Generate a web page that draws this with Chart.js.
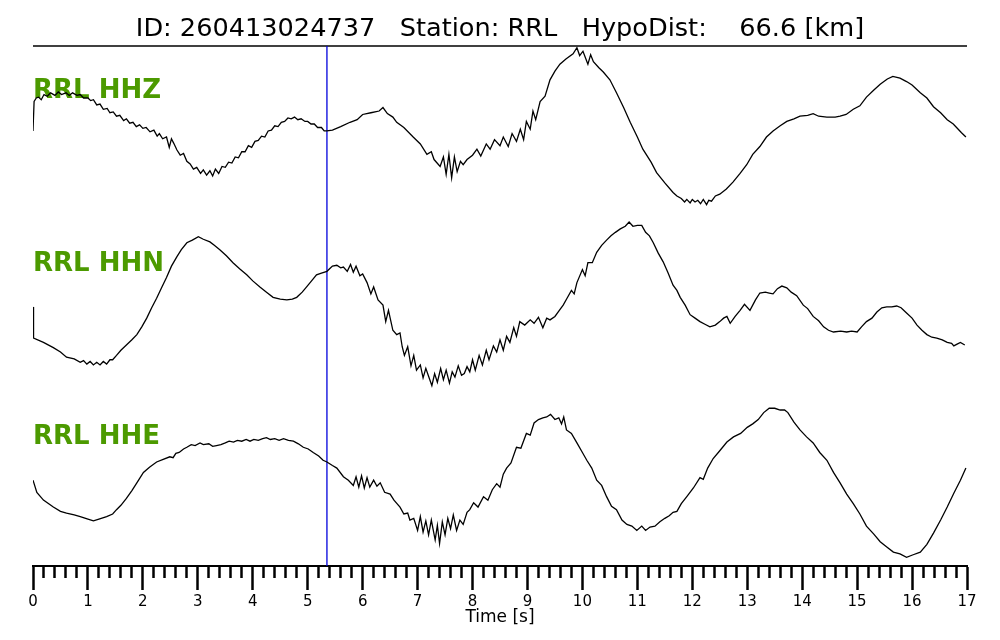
<!DOCTYPE html>
<html>
<head>
<meta charset="utf-8">
<script src="https://cdn.jsdelivr.net/npm/chart.js@4/dist/chart.umd.min.js"></script>
<style>
  html, body { margin: 0; padding: 0; background: #fff; }
  #wrap { width: 1000px; height: 640px; }
</style>
</head>
<body>
<div id="wrap"><canvas id="seis"></canvas></div>
<script>
// event header
const eventId = '260413024737';
const station = 'RRL';
const hypoDist = '66.6';
const channels = ['HHZ', 'HHN', 'HHE'];
const pickTime = 5.35; // blue marker, s

// traces: time in s, amplitude normalised per channel (1 = half a panel)
const hhzTime = [
  0, 0.02, 0.06, 0.1, 0.15, 0.2, 0.26, 0.32, 0.4, 0.46,
  0.52, 0.6, 0.66, 0.72, 0.8, 0.86, 0.92, 1.0, 1.05, 1.1,
  1.16, 1.22, 1.28, 1.35, 1.4, 1.46, 1.52, 1.58, 1.65, 1.7,
  1.76, 1.82, 1.88, 1.94, 2.0, 2.06, 2.13, 2.2, 2.26, 2.3,
  2.36, 2.43, 2.48, 2.52, 2.56, 2.62, 2.68, 2.74, 2.8, 2.86,
  2.92, 2.98, 3.05, 3.1, 3.16, 3.22, 3.27, 3.32, 3.38, 3.44,
  3.5, 3.56, 3.62, 3.68, 3.74, 3.8, 3.86, 3.92, 3.98, 4.04,
  4.1, 4.16, 4.22, 4.28, 4.34, 4.4, 4.46, 4.52, 4.58, 4.64,
  4.7, 4.76, 4.82, 4.88, 4.95, 5.0, 5.06, 5.12, 5.18, 5.25,
  5.3, 5.35, 5.45, 5.6, 5.77, 5.9, 6.0, 6.15, 6.3, 6.37,
  6.45, 6.55, 6.62, 6.75, 6.92, 7.05, 7.17, 7.25, 7.3, 7.41,
  7.47, 7.52, 7.57, 7.62, 7.67, 7.72, 7.78, 7.83, 7.9, 8.0,
  8.08, 8.15, 8.25, 8.32, 8.4, 8.5, 8.56, 8.65, 8.72, 8.8,
  8.87, 8.93, 8.98, 9.05, 9.1, 9.15, 9.23, 9.32, 9.41, 9.5,
  9.59, 9.7, 9.83, 9.9, 9.95, 10.01, 10.1, 10.15, 10.2, 10.3,
  10.38, 10.5, 10.62, 10.75, 10.87, 11.0, 11.1, 11.25, 11.35, 11.5,
  11.65, 11.72, 11.8, 11.86, 11.9, 11.96, 12.0, 12.05, 12.1, 12.15,
  12.2, 12.26, 12.3, 12.35, 12.42, 12.5, 12.62, 12.74, 12.87, 12.99,
  13.1, 13.23, 13.35, 13.47, 13.6, 13.72, 13.85, 13.96, 14.1, 14.2,
  14.3, 14.45, 14.6, 14.69, 14.8, 14.93, 15.05, 15.17, 15.3, 15.42,
  15.55, 15.65, 15.78, 15.9, 16.0, 16.15, 16.27, 16.39, 16.52, 16.64,
  16.75, 16.81, 16.9, 16.98
];
const hhzAmp = [
  0.02, 0.36, 0.40, 0.41, 0.38, 0.44, 0.42, 0.46, 0.43, 0.47,
  0.44, 0.46, 0.43, 0.46, 0.43, 0.44, 0.40, 0.40, 0.37, 0.38,
  0.32, 0.33, 0.27, 0.28, 0.23, 0.24, 0.19, 0.20, 0.14, 0.16,
  0.11, 0.12, 0.07, 0.09, 0.05, 0.06, 0.01, 0.03, -0.04, -0.01,
  -0.07, -0.05, -0.17, -0.07, -0.12, -0.20, -0.26, -0.24, -0.33, -0.36,
  -0.42, -0.40, -0.47, -0.43, -0.49, -0.44, -0.50, -0.42, -0.47, -0.39,
  -0.40, -0.34, -0.35, -0.28, -0.29, -0.22, -0.22, -0.15, -0.17, -0.10,
  -0.09, -0.04, -0.05, 0.02, 0.03, 0.08, 0.07, 0.12, 0.13, 0.17,
  0.16, 0.18, 0.15, 0.16, 0.13, 0.13, 0.10, 0.10, 0.06, 0.06,
  0.02, 0.02, 0.03, 0.07, 0.12, 0.15, 0.21, 0.23, 0.25, 0.29,
  0.22, 0.18, 0.12, 0.06, -0.05, -0.13, -0.25, -0.22, -0.31, -0.39,
  -0.28, -0.48, -0.25, -0.52, -0.28, -0.45, -0.33, -0.37, -0.31, -0.26,
  -0.19, -0.27, -0.13, -0.19, -0.08, -0.15, -0.05, -0.16, -0.01, -0.10,
  0.04, -0.08, 0.13, 0.04, 0.25, 0.15, 0.36, 0.42, 0.61, 0.71,
  0.79, 0.85, 0.91, 0.98, 0.89, 0.94, 0.79, 0.90, 0.82, 0.75,
  0.70, 0.61, 0.46, 0.29, 0.12, -0.05, -0.19, -0.34, -0.46, -0.58,
  -0.69, -0.73, -0.76, -0.80, -0.77, -0.81, -0.77, -0.80, -0.78, -0.82,
  -0.77, -0.83, -0.78, -0.79, -0.73, -0.71, -0.65, -0.57, -0.47, -0.37,
  -0.25, -0.16, -0.05, 0.02, 0.08, 0.13, 0.16, 0.19, 0.20, 0.22,
  0.19, 0.18, 0.18, 0.19, 0.21, 0.27, 0.31, 0.41, 0.49, 0.56,
  0.62, 0.65, 0.63, 0.59, 0.55, 0.46, 0.40, 0.30, 0.23, 0.15,
  0.10, 0.06, 0.00, -0.05
];

const hhnTime = [
  0, 0.01, 0.19, 0.37, 0.5, 0.61, 0.75, 0.86, 0.92, 0.98,
  1.04, 1.1, 1.16, 1.22, 1.28, 1.34, 1.4, 1.45, 1.52, 1.6,
  1.7, 1.8, 1.89, 1.98, 2.07, 2.16, 2.25, 2.34, 2.43, 2.52,
  2.62, 2.7, 2.8, 2.9, 3.01, 3.1, 3.22, 3.3, 3.4, 3.52,
  3.64, 3.76, 3.89, 4.0, 4.13, 4.25, 4.37, 4.5, 4.62, 4.72,
  4.8, 4.9, 4.98, 5.07, 5.16, 5.25, 5.35, 5.45, 5.53, 5.6,
  5.65, 5.72, 5.78, 5.83, 5.88, 5.95, 6.0, 6.08, 6.15, 6.2,
  6.28, 6.37, 6.42, 6.47, 6.55, 6.62, 6.68, 6.72, 6.76, 6.82,
  6.88, 6.93, 6.98, 7.05, 7.1, 7.15, 7.2, 7.26, 7.31, 7.36,
  7.42, 7.47, 7.52, 7.58, 7.63, 7.68, 7.74, 7.8, 7.85, 7.9,
  7.95, 8.0, 8.05, 8.12, 8.18, 8.25, 8.3, 8.38, 8.44, 8.5,
  8.56, 8.62, 8.68, 8.75, 8.8, 8.86, 8.95, 9.05, 9.12, 9.2,
  9.28, 9.35, 9.41, 9.5, 9.58, 9.65, 9.72, 9.8, 9.85, 9.9,
  10.0, 10.05, 10.1, 10.18, 10.26, 10.35, 10.44, 10.52, 10.6, 10.69,
  10.78, 10.85, 10.92, 11.0, 11.08, 11.15, 11.22, 11.29, 11.38, 11.47,
  11.56, 11.65, 11.72, 11.78, 11.87, 11.96, 12.05, 12.14, 12.23, 12.32,
  12.42, 12.5, 12.57, 12.63, 12.69, 12.78, 12.87, 12.95, 13.05, 13.15,
  13.23, 13.33, 13.4, 13.47, 13.55, 13.63, 13.72, 13.8, 13.9, 14.02,
  14.1, 14.2, 14.3, 14.39, 14.48, 14.57, 14.7, 14.81, 14.9, 15.0,
  15.08, 15.17, 15.27, 15.36, 15.45, 15.54, 15.63, 15.72, 15.8, 15.9,
  16.0, 16.09, 16.18, 16.27, 16.36, 16.45, 16.55, 16.64, 16.72, 16.76,
  16.82, 16.88, 16.96
];
const hhnAmp = [
  -0.01, -0.37, -0.42, -0.48, -0.53, -0.59, -0.61, -0.65, -0.63, -0.67,
  -0.64, -0.68, -0.65, -0.68, -0.64, -0.67, -0.62, -0.62, -0.57, -0.51,
  -0.45, -0.39, -0.33, -0.24, -0.14, -0.02, 0.09, 0.21, 0.33, 0.46,
  0.57, 0.65, 0.73, 0.76, 0.80, 0.77, 0.74, 0.70, 0.65, 0.58,
  0.50, 0.43, 0.36, 0.29, 0.22, 0.16, 0.10, 0.08, 0.07, 0.08,
  0.10, 0.16, 0.22, 0.29, 0.36, 0.38, 0.40, 0.46, 0.47, 0.44,
  0.45, 0.40, 0.48, 0.39, 0.46, 0.35, 0.37, 0.27, 0.14, 0.22,
  0.07, 0.01, -0.18, -0.05, -0.28, -0.33, -0.31, -0.47, -0.57, -0.47,
  -0.69, -0.57, -0.74, -0.68, -0.83, -0.72, -0.81, -0.92, -0.78, -0.88,
  -0.72, -0.85, -0.74, -0.89, -0.76, -0.82, -0.69, -0.80, -0.78, -0.70,
  -0.76, -0.62, -0.74, -0.57, -0.68, -0.51, -0.62, -0.46, -0.53, -0.39,
  -0.51, -0.35, -0.42, -0.25, -0.35, -0.18, -0.22, -0.16, -0.20, -0.13,
  -0.25, -0.14, -0.16, -0.12, -0.05, 0.01, 0.09, 0.18, 0.14, 0.27,
  0.42, 0.35, 0.50, 0.50, 0.62, 0.70, 0.76, 0.81, 0.85, 0.89,
  0.92, 0.97, 0.92, 0.93, 0.93, 0.85, 0.81, 0.73, 0.61, 0.51,
  0.38, 0.24, 0.18, 0.10, 0.01, -0.10, -0.14, -0.18, -0.21, -0.24,
  -0.22, -0.18, -0.14, -0.12, -0.20, -0.12, -0.05, 0.02, -0.05, 0.07,
  0.15, 0.16, 0.15, 0.14, 0.20, 0.23, 0.21, 0.16, 0.12, 0.01,
  -0.03, -0.12, -0.17, -0.24, -0.28, -0.30, -0.29, -0.30, -0.29, -0.30,
  -0.24, -0.18, -0.14, -0.07, -0.02, -0.01, -0.01, 0.00, -0.02, -0.08,
  -0.14, -0.22, -0.28, -0.33, -0.36, -0.37, -0.39, -0.42, -0.43, -0.46,
  -0.44, -0.42, -0.45
];

const hheTime = [
  0, 0.07, 0.19, 0.37, 0.5, 0.61, 0.75, 0.86, 1.0, 1.1,
  1.2, 1.34, 1.45, 1.52, 1.6, 1.7, 1.8, 1.89, 2.01, 2.12,
  2.25, 2.37, 2.49, 2.55, 2.6, 2.66, 2.74, 2.8, 2.88, 2.95,
  3.04, 3.1, 3.2, 3.27, 3.34, 3.42, 3.5, 3.57, 3.65, 3.72,
  3.8, 3.88, 3.95, 4.02, 4.1, 4.18, 4.25, 4.32, 4.4, 4.48,
  4.56, 4.65, 4.74, 4.83, 4.92, 5.01, 5.1, 5.2, 5.28, 5.35,
  5.45, 5.53, 5.65, 5.74, 5.83, 5.88, 5.93, 5.98, 6.03, 6.08,
  6.13, 6.2, 6.26, 6.32, 6.4, 6.5, 6.57, 6.68, 6.75, 6.82,
  6.86, 6.93, 7.0, 7.05, 7.1, 7.15, 7.2, 7.25, 7.32, 7.36,
  7.4, 7.45, 7.5, 7.55, 7.6, 7.65, 7.71, 7.77, 7.83, 7.9,
  7.95, 8.02, 8.1, 8.2, 8.28, 8.36, 8.44, 8.5, 8.56, 8.62,
  8.7, 8.8, 8.88, 8.98, 9.05, 9.12, 9.2, 9.28, 9.35, 9.42,
  9.5, 9.57, 9.62, 9.66, 9.71, 9.8, 9.9, 10.0, 10.08, 10.17,
  10.26, 10.35, 10.44, 10.53, 10.62, 10.72, 10.81, 10.9, 10.99, 11.08,
  11.15, 11.23, 11.32, 11.41, 11.5, 11.58, 11.65, 11.72, 11.8, 11.9,
  12.02, 12.14, 12.2, 12.28, 12.38, 12.5, 12.63, 12.75, 12.88, 13.0,
  13.1, 13.2, 13.3, 13.4, 13.5, 13.6, 13.68, 13.74, 13.85, 13.96,
  14.08, 14.2, 14.32, 14.45, 14.57, 14.69, 14.81, 14.93, 15.05, 15.17,
  15.3, 15.42, 15.54, 15.66, 15.78, 15.9, 16.02, 16.15, 16.27, 16.39,
  16.52, 16.64, 16.76, 16.88, 16.98
];
const hheAmp = [
  -0.01, -0.15, -0.24, -0.32, -0.37, -0.39, -0.41, -0.43, -0.46, -0.48,
  -0.46, -0.43, -0.40, -0.35, -0.30, -0.22, -0.13, -0.04, 0.08, 0.14,
  0.20, 0.23, 0.26, 0.25, 0.30, 0.31, 0.35, 0.37, 0.40, 0.39,
  0.42, 0.40, 0.41, 0.38, 0.39, 0.40, 0.42, 0.44, 0.43, 0.45,
  0.44, 0.46, 0.44, 0.46, 0.45, 0.47, 0.48, 0.46, 0.47, 0.45,
  0.47, 0.45, 0.44, 0.41, 0.37, 0.35, 0.31, 0.27, 0.22, 0.20,
  0.16, 0.13, 0.03, -0.01, -0.07, 0.03, -0.09, 0.04, -0.10, 0.02,
  -0.09, -0.01, -0.08, -0.04, -0.15, -0.17, -0.24, -0.32, -0.40, -0.39,
  -0.47, -0.45, -0.59, -0.43, -0.61, -0.48, -0.64, -0.47, -0.70, -0.53,
  -0.74, -0.49, -0.64, -0.45, -0.57, -0.41, -0.59, -0.47, -0.52, -0.38,
  -0.35, -0.27, -0.32, -0.20, -0.24, -0.12, -0.05, -0.09, 0.06, 0.13,
  0.19, 0.37, 0.36, 0.53, 0.51, 0.65, 0.69, 0.71, 0.72, 0.75,
  0.69, 0.71, 0.64, 0.72, 0.57, 0.53, 0.42, 0.31, 0.22, 0.13,
  -0.01, -0.07, -0.20, -0.31, -0.35, -0.47, -0.52, -0.54, -0.59, -0.54,
  -0.59, -0.55, -0.54, -0.49, -0.45, -0.42, -0.38, -0.37, -0.28, -0.20,
  -0.10, 0.02, 0.00, 0.13, 0.24, 0.33, 0.43, 0.49, 0.53, 0.60,
  0.64, 0.69, 0.77, 0.82, 0.82, 0.80, 0.80, 0.77, 0.66, 0.57,
  0.49, 0.42, 0.31, 0.22, 0.08, -0.04, -0.17, -0.28, -0.40, -0.54,
  -0.63, -0.72, -0.78, -0.84, -0.86, -0.90, -0.87, -0.84, -0.75, -0.62,
  -0.47, -0.32, -0.16, -0.01, 0.13
];

// one panel per channel, stacked top to bottom
const traces = [
  { t: hhzTime, a: hhzAmp },
  { t: hhnTime, a: hhnAmp },
  { t: hheTime, a: hheAmp }
];
const nPanels = traces.length;
const panelMid = i => nPanels - i - 0.5;

const isMajor = v => Math.abs(v - Math.round(v)) < 1e-6;

// channel names + top frame line
const panelLabels = {
  id: 'panelLabels',
  beforeDatasetsDraw(chart) {
    const { ctx, chartArea, scales: { y } } = chart;
    ctx.save();
    ctx.strokeStyle = '#000';
    ctx.lineWidth = 1.5;
    ctx.beginPath();
    ctx.moveTo(chartArea.left, chartArea.top);
    ctx.lineTo(chartArea.right, chartArea.top);
    ctx.stroke();

    ctx.font = 'bold 26px "DejaVu Sans"';
    ctx.fillStyle = '#4c9a00';
    ctx.textBaseline = 'middle';
    ctx.textAlign = 'left';
    channels.forEach((ch, i) => {
      const top = y.getPixelForValue(panelMid(i) + 0.5);
      ctx.fillText(station + ' ' + ch, chartArea.left, top + 45);
    });
    ctx.restore();
  }
};

const datasets = traces.map((tr, i) => ({
  label: channels[i],
  data: tr.t.map((t, k) => ({ x: t, y: panelMid(i) + tr.a[k] * 0.5 })),
  borderColor: '#000',
  borderWidth: 1.3,
  pointRadius: 0,
  tension: 0
}));

datasets.push({
  label: 'pick',
  data: [{ x: pickTime, y: 0 }, { x: pickTime, y: nPanels }],
  borderColor: '#0000dd',
  borderWidth: 1.3,
  pointRadius: 0
});

new Chart(document.getElementById('seis'), {
  type: 'line',
  data: { datasets },
  options: {
    responsive: true,
    maintainAspectRatio: false,
    animation: false,
    layout: { padding: { left: 33, right: 33, top: 0, bottom: 0 } },
    plugins: {
      legend: { display: false },
      tooltip: { enabled: false },
      title: {
        display: true,
        text: 'ID: ' + eventId + '   Station: ' + station + '   HypoDist:    ' + hypoDist + ' [km]',
        color: '#000',
        font: { family: 'DejaVu Sans', size: 25.6, weight: 'normal' },
        padding: { top: 13.5, bottom: 1.8 }
      }
    },
    scales: {
      x: {
        type: 'linear',
        min: 0,
        max: 17,
        border: { display: true, color: '#000', width: 2 },
        grid: {
          drawOnChartArea: false,
          drawTicks: true,
          tickLength: 24,
          tickWidth: 2.5,
          tickColor: '#000',
          tickBorderDash: ctx => isMajor(ctx.tick.value) ? [] : [11, 40]
        },
        ticks: {
          stepSize: 0.2,
          maxTicksLimit: 200,
          autoSkip: false,
          maxRotation: 0,
          padding: 3,
          color: '#000',
          font: { family: 'DejaVu Sans', size: 15 },
          callback: v => isMajor(v) ? String(Math.round(v)) : ''
        },
        title: {
          display: true,
          text: 'Time [s]',
          color: '#000',
          font: { family: 'DejaVu Sans', size: 17 },
          padding: { top: 0, bottom: 12 }
        },
        afterFit: scale => { scale.height = 74; }
      },
      y: { display: false, min: 0, max: nPanels }
    }
  },
  plugins: [panelLabels]
});
</script>
</body>
</html>
